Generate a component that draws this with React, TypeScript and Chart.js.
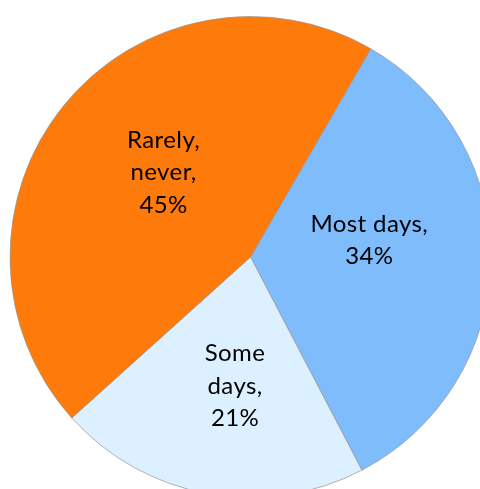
import React, { useEffect, useRef } from "react";
import { Chart, registerables } from "chart.js";

Chart.register(...registerables);

const categories = ["Most days", "Some days", "Rarely, never"];
const values = [34, 21, 45];
const labelLines = [
  ["Most days,", "34%"],
  ["Some", "days,", "21%"],
  ["Rarely,", "never,", "45%"],
];

// styling / placement
const colors = ["#7fbcfc", "#dcf0ff", "#fe7a0b"];
const labelRadiusRatio = [0.499, 0.539, 0.505];
const labelAngleOffsetDeg = [-9.3, -3.35, 5.3];

const labelPlugin = {
  id: "sliceLabels",
  afterDatasetsDraw(chart: any) {
    const { ctx } = chart;
    const meta = chart.getDatasetMeta(0);
    ctx.save();
    ctx.font = "24px Lato";
    try {
      (ctx as any).letterSpacing = "0.4px";
    } catch (e) {}
    ctx.fillStyle = "#000000";
    ctx.textAlign = "center";
    ctx.textBaseline = "alphabetic";
    const lh = 32.4;
    const capHalf = 8;
    meta.data.forEach((arc: any, i: number) => {
      const { x, y, startAngle, endAngle, outerRadius } = arc.getProps(
        ["x", "y", "startAngle", "endAngle", "outerRadius"],
        true
      );
      const mid = (startAngle + endAngle) / 2 + (labelAngleOffsetDeg[i] * Math.PI) / 180;
      const r = outerRadius * labelRadiusRatio[i];
      const cx = x + Math.cos(mid) * r;
      const cy = y + Math.sin(mid) * r;
      const lines = labelLines[i];
      const n = lines.length;
      lines.forEach((t, j) =>
        ctx.fillText(t, cx, cy + capHalf + (j - (n - 1) / 2) * lh)
      );
    });
    ctx.restore();
  },
};

export default function App() {
  const ref = useRef<HTMLCanvasElement>(null);
  useEffect(() => {
    document.body.style.margin = "0";
    const chart = new Chart(ref.current!, {
      type: "pie",
      data: {
        labels: categories,
        datasets: [
          {
            data: values,
            backgroundColor: colors,
            borderColor: "rgba(150,150,150,0.7)",
            borderWidth: 1,
          },
        ],
      },
      options: {
        animation: false,
        responsive: false,
        rotation: 30,
        layout: { padding: { left: 9, right: 9, top: 16, bottom: 12 } },
        plugins: {
          legend: { display: false },
          tooltip: { enabled: false },
        },
      },
      plugins: [labelPlugin],
    });
    return () => chart.destroy();
  }, []);
  return (
    <div
      style={{
        position: "relative",
        width: 480,
        height: 489,
        overflow: "hidden",
        background: "#fff",
      }}
    >
      <canvas
        ref={ref}
        width={501}
        height={510}
        style={{ position: "absolute", left: 0, top: 0, width: 501, height: 510 }}
      />
    </div>
  );
}
